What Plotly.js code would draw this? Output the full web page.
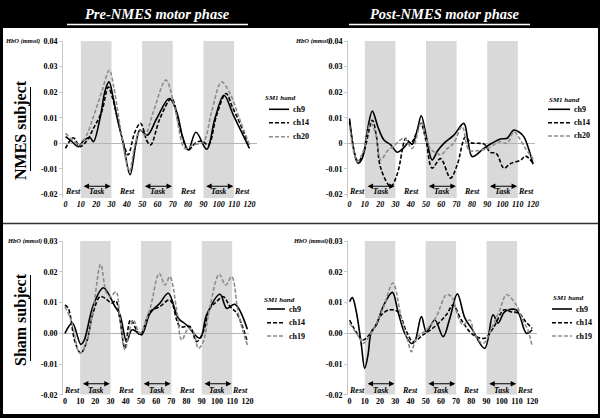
<!DOCTYPE html>
<html><head><meta charset="utf-8">
<script src="https://cdn.plot.ly/plotly-3.0.1.min.js"></script>
<style>html,body{margin:0;padding:0;background:#fff}#chart{width:600px;height:418px}</style>
</head><body><div id="chart"></div>
<script>
// ---------- DATA ----------
const xTicks = [0,10,20,30,40,50,60,70,80,90,100,110,120];
const yTicksTop = [-0.02,-0.01,0,0.01,0.02,0.03,0.04];
const yTickTextTop = ["-0.02","-0.01","0","0.01","0.02","0.03","0.04"];
const yTicksBottom = [-0.02,-0.01,0,0.01,0.02,0.03];
const yTickTextBottom = ["-0.02","-0.01","0.00","0.01","0.02","0.03"];
const taskStart = [10,50,90];
const taskEnd = [30,70,110];
const restLabelX = [4.7,40,80,115.3];
const taskLabelX = [20,60,100];
const columnTitles = ["Pre-NMES motor phase","Post-NMES motor phase"];
const rowTitles = ["NMES subject","Sham subject"];
const legendTitle = "SM1 hand";
const namesTop = ["ch9","ch14","ch20"];
const namesBottom = ["ch9","ch14","ch19"];

// NMES subject, pre-NMES
const nPre_ch9_x = [0,4,8.4,12,16,18.2,22.5,25.8,28.4,31.2,33.8,37.7,42.1,46,48.6,53.4,59.5,67.7,72.5,76.4,80.1,85.1,92.1,97.5,103.4,109.5,114.8,120];
const nPre_ch9_y = [0.0026,0.0008,-0.0013,0.0012,0.0022,0.0006,0.0097,0.0205,0.024,0.0175,0.0097,0,-0.0123,0,0.0052,0.0032,0.0097,0.0175,0.0123,0.0026,-0.0026,0.0043,-0.0023,0.0097,0.0188,0.011,0.0045,-0.002];
const nPre_ch14_x = [0,5.1,9.5,13.8,18.2,23.6,27.9,30.5,33.4,38.8,40.9,45.3,49,53.4,55.6,61.6,69.2,74.6,80.1,84.5,88.9,93.2,98.6,104.7,109,113.8,120];
const nPre_ch14_y = [-0.002,0.0022,-0.0013,0.0009,0.0058,0.0123,0.022,0.018,0.011,-0.002,-0.0045,0.0045,0.0078,0.0006,-0.0006,0.0097,0.0175,0.0058,-0.0026,0,0.0009,-0.0006,0.011,0.0195,0.014,0.0078,-0.0013];
const nPre_ch20_x = [0,4,7.3,9.9,13.8,18.2,23.6,28.6,31.5,34.5,38.8,41.6,45.3,48.6,51.8,57.3,65.5,71.4,78,83.4,89.9,95.3,101.8,107.3,113.8,120];
const nPre_ch20_y = [0.0039,0.0015,0,-0.0006,0.0032,0.0104,0.02,0.0286,0.022,0.011,-0.0045,-0.011,-0.0006,0.0052,0.0032,0.0123,0.0247,0.0136,-0.002,-0.0006,0.0006,0.0123,0.024,0.0195,0.0091,-0.0006];

// NMES subject, post-NMES
const nPost_ch9_x = [0,5.5,8.4,11.5,14.9,18.5,22.5,27,31.2,35,38.9,41,44,46.9,50,54,57.5,61.7,68.2,74.7,77.5,80.2,87.8,93,98.7,103,107.4,110.5,113.9,117,120];
const nPost_ch9_y = [0.0097,-0.0078,-0.0058,0.0045,0.0126,0.0065,0.0013,-0.0006,-0.0035,-0.002,0.0004,-0.0004,0.0045,0.0108,0.0032,-0.0065,-0.003,0,0.0032,0.0078,0.0006,-0.0052,-0.002,0,0.0017,0.002,0.0052,0.0045,0.0026,-0.002,-0.0082];
const nPost_ch14_x = [0,5.5,9,14.9,17.5,20.4,26.9,31.2,35.6,36.7,40,43,46.5,50,54,59.5,66,70.4,75.8,79,84,88,92,96,100.9,105,112,115,120];
const nPost_ch14_y = [0.0084,-0.0071,-0.004,0.009,0.003,-0.0097,-0.0169,-0.012,0.0006,0.002,0,0.003,0.0078,0.001,-0.0097,-0.006,-0.0136,-0.0084,0.0026,0.0003,0,-0.0003,-0.0035,-0.004,-0.0097,-0.008,-0.0065,-0.005,-0.0078];
const nPost_ch20_x = [0,5.1,9,13.8,17,20.4,24.7,29,35.6,41,46.9,50,53.4,56,59.5,64,68,73.6,78,82.4,90,98.7,103,107.4,111,115,120];
const nPost_ch20_y = [0.007,-0.0071,-0.003,0.0078,0.004,-0.0065,-0.003,-0.001,0.002,-0.002,0.0084,0.002,-0.0026,-0.0035,-0.0045,-0.002,0,0.0065,-0.0026,-0.003,-0.002,0.0006,0,0.0045,0.002,-0.002,-0.006];

// Sham subject, pre-NMES
const sPre_ch9_x = [0,4.9,10.4,12.5,18.7,25.3,32.9,36.2,40.6,43.9,47.2,50.5,56,62.5,68,74.6,80,88.8,93.2,102,106.4,111.8,120];
const sPre_ch9_y = [0,0.0033,-0.0036,-0.0025,0.0092,0.0148,0.0087,0.006,-0.0027,0.0011,0.0005,-0.0005,0.0065,0.0098,0.013,0.0049,0.0027,-0.0016,0.006,0.0127,0.0081,0.0094,0.0013];
const sPre_ch14_x = [0,2.2,6.6,10.4,14.3,18.7,23.1,26.4,30.8,33.5,36,39.5,43.2,49.4,56,62.5,69,75.7,82.2,86.6,91,95.4,99.8,104.2,108.6,113,120];
const sPre_ch14_y = [0.0092,0.0081,-0.0027,-0.0065,-0.0027,0.007,0.0119,0.0114,0.0098,0.0105,0.005,-0.0049,0.0043,-0.0005,0.007,0.0087,0.0108,0.0022,0.0022,-0.0027,0.0005,0.0081,0.0103,0.0119,0.0087,0.0065,-0.0027];
const sPre_ch19_x = [0,4.4,9.9,14.3,18.7,23.5,27.4,30.1,33.6,36.2,39.5,42.8,45,49.4,56,62,65.8,69,73.5,76.8,81.2,84.5,87.8,91,95.4,101.5,105.7,109.7,114.2,120];
const sPre_ch19_y = [0.0087,0.0038,-0.0065,-0.0027,0.0081,0.0224,0.013,0.0119,0.0135,0.0049,-0.0054,0.0016,0.0043,0,0.0081,0.0195,0.0157,0.0184,0.0076,-0.0022,0.0016,0.0005,-0.0049,-0.0027,0.0087,0.0192,0.0157,0.0184,0.006,-0.0038];

// Sham subject, post-NMES
const sPost_ch9_x = [0,1.8,4.4,7.7,9.9,12.1,14.3,17.6,22,28.1,31.8,36.2,40.6,42.8,47.2,50.5,56,61.5,65.9,70.8,75.8,80.2,88.8,94.3,97.6,102,109.6,116.3,120];
const sPost_ch9_y = [0.0103,0.0116,0.007,-0.0038,-0.0114,-0.007,0.0005,0.0027,0.0087,0.0133,0.007,0,-0.0033,-0.0027,0.0054,0.0005,0.0043,-0.0011,0.0049,0.0128,0.0049,0.0016,-0.0049,0.006,0.0033,0.007,0.0076,0,0.0011];
const sPost_ch14_x = [0,5.5,8.8,15.4,20.9,26.3,31.8,37.4,41.7,48.3,56,63.6,68,73.5,81.2,88.8,94.3,101.5,105.8,111.3,115.7,120];
const sPost_ch14_y = [0.0043,-0.0005,-0.0022,0.0011,0.006,0.0076,0.007,0.0005,-0.0027,-0.0005,0.0022,0.006,0.0092,0.0043,-0.0005,-0.0016,0.0016,0.0076,0.007,0.0065,0.0038,0.0016];
const sPost_ch19_x = [0,6.6,8.8,15.4,22,28.5,34,38.4,40.6,43.9,50.5,57,63.6,67,71.3,74.6,79,82.3,87.8,93.3,98.3,103.2,108.8,114.3,117.2,120];
const sPost_ch19_y = [0.0033,-0.0016,-0.0033,0.0011,0.0081,0.0163,0.0049,-0.0027,-0.006,-0.0016,0.0011,0.0054,0.0125,0.0119,0.0054,0.0027,0.0043,-0.0005,-0.0033,0.0016,0.007,0.0125,0.0098,0.0038,0.0011,-0.0043];

// ---------- BUILD ----------
const W = 600, H = 418;
const F = "'Liberation Serif','Times New Roman',Times,serif";
const px = v => v / W;
const py = v => 1 - v / H;

const styles = [
  {color:'#000000', width:1.6, dash:'solid'},
  {color:'#000000', width:1.6, dash:'4px,2px'},
  {color:'#8c8c8c', width:1.6, dash:'4px,2px'}
];

const panels = [
  {s:'', xr:[-1.6,125], xd:[63.05,257.1], yr:[-0.0215,0.04], yd:[41,198.3], top:true,
   series:[[nPre_ch9_x,nPre_ch9_y],[nPre_ch14_x,nPre_ch14_y],[nPre_ch20_x,nPre_ch20_y]], names:namesTop,
   hbo:[22,41], leg:{title:[280,98], x0:269, x1:289, ys:[109.3,122.7,136.7]}, arrowY:-0.0168, labY:-0.0190},
  {s:'2', xr:[-1,121.5], xd:[348,535.4], yr:[-0.0215,0.04], yd:[41,198.3], top:true,
   series:[[nPost_ch9_x,nPost_ch9_y],[nPost_ch14_x,nPost_ch14_y],[nPost_ch20_x,nPost_ch20_y]], names:namesTop,
   hbo:[313,41], leg:{title:[564,100], x0:548, x1:570, ys:[109.3,122.7,136]}, arrowY:-0.0168, labY:-0.0190},
  {s:'3', xr:[-1.2,121], xd:[63.1,248.9], yr:[-0.02,0.03], yd:[241,394.8], top:false,
   series:[[sPre_ch9_x,sPre_ch9_y],[sPre_ch14_x,sPre_ch14_y],[sPre_ch19_x,sPre_ch19_y]], names:namesBottom,
   hbo:[24,241], leg:{title:[279,300], x0:267, x1:285, ys:[309,322.7,336]}, arrowY:-0.0164, labY:-0.0185},
  {s:'4', xr:[-1,123], xd:[348.1,536.7], yr:[-0.02,0.03], yd:[241,394.8], top:false,
   series:[[sPost_ch9_x,sPost_ch9_y],[sPost_ch14_x,sPost_ch14_y],[sPost_ch19_x,sPost_ch19_y]], names:namesBottom,
   hbo:[310,241], leg:{title:[568,298], x0:552, x1:572, ys:[309,322.7,336]}, arrowY:-0.0164, labY:-0.0185}
];

const data = [];
const shapes = [];
const annotations = [];
const layout = {
  width: W, height: H, margin:{l:0,r:0,t:0,b:0},
  paper_bgcolor:'#ffffff', plot_bgcolor:'rgba(0,0,0,0)',
  showlegend:false, font:{family:F, color:'#000'}
};

function paperText(x, y, text, font, extra) {
  return Object.assign({xref:'paper', yref:'paper', x:px(x), y:py(y), text:text, showarrow:false,
    xanchor:'center', yanchor:'middle', font:font}, extra || {});
}

panels.forEach(p => {
  const xk = 'xaxis' + p.s, yk = 'yaxis' + p.s;
  const xref = 'x' + p.s, yref = 'y' + p.s;
  layout[xk] = {
    domain:[px(p.xd[0]), px(p.xd[1])], range:p.xr, anchor:yref,
    showgrid:false, zeroline:false, showline:false, ticks:'',
    tickmode:'array', tickvals:xTicks, ticktext:xTicks.map(String),
    tickfont:{family:F, size:8, weight:'bold', style: p.top ? 'italic' : 'normal', color:'#000'},
    fixedrange:true
  };
  layout[yk] = {
    domain:[py(p.yd[1]), py(p.yd[0])], range:p.yr, anchor:xref,
    showgrid:false, zeroline:true, zerolinecolor:'#b4b4b4', zerolinewidth:1,
    showline:true, linecolor:'#c8c8c8', linewidth:1, ticks:'outside', ticklen:3, tickcolor:'#c8c8c8',
    tickmode:'array', tickvals: p.top ? yTicksTop : yTicksBottom, ticktext: p.top ? yTickTextTop : yTickTextBottom,
    tickfont:{family:F, size:8, weight:'bold', color:'#000'}, fixedrange:true
  };
  // shaded task blocks
  taskStart.forEach((t,i) => {
    shapes.push({type:'rect', xref:xref, yref:yref, x0:t, x1:taskEnd[i], y0:p.yr[0], y1:p.yr[1],
      fillcolor:'#d9d9d9', line:{width:0}, layer:'below'});
  });
  // series
  p.series.forEach((sr,i) => {
    data.push({type:'scatter', mode:'lines', x:sr[0], y:sr[1], name:p.names[i], xaxis:xref, yaxis:yref,
      line:{color:styles[i].color, width:styles[i].width, dash:styles[i].dash, shape:'spline', smoothing:1},
      hoverinfo:'skip'});
  });
  // Rest / Task labels
  const lf = {family:F, size:8, weight:'bold', style:'italic', color:'#000'};
  restLabelX.forEach(x => annotations.push({xref:xref, yref:yref, x:x, y:p.labY, text:'Rest', showarrow:false,
    xanchor:'center', yanchor:'middle', font:lf}));
  taskLabelX.forEach(x => annotations.push({xref:xref, yref:yref, x:x, y:p.labY, text:'Task', showarrow:false,
    xanchor:'center', yanchor:'middle', font:lf}));
  taskStart.forEach((t,i) => annotations.push({xref:xref, yref:yref, axref:xref, ayref:yref,
    x:taskEnd[i]-0.5, y:p.arrowY, ax:t+0.8, ay:p.arrowY, text:'', showarrow:true,
    arrowhead:2, arrowside:'end+start', arrowsize:1, arrowwidth:1.1, arrowcolor:'#000'}));
  // HbO label
  annotations.push(paperText(p.hbo[0], p.hbo[1], 'HbO (mmol)', {family:F, size:6.5, weight:'bold', style:'italic', color:'#000'}));
  // manual legend
  annotations.push(paperText(p.leg.title[0], p.leg.title[1], legendTitle, {family:F, size:7, weight:'bold', style:'italic', color:'#000'}));
  p.leg.ys.forEach((yy,i) => {
    shapes.push({type:'line', xref:'paper', yref:'paper', x0:px(p.leg.x0), x1:px(p.leg.x1), y0:py(yy), y1:py(yy),
      line:{color:styles[i].color, width:styles[i].width, dash:styles[i].dash}});
    annotations.push(paperText(p.leg.x1+2, yy, p.names[i], {family:F, size:8, weight:'bold', color:'#000'}, {xanchor:'left'}));
  });
});

// frame: black band at top, borders, separator
shapes.push({type:'rect', xref:'paper', yref:'paper', x0:0, x1:1, y0:py(28), y1:1, fillcolor:'#000', line:{width:0}});
shapes.push({type:'rect', xref:'paper', yref:'paper', x0:0, x1:px(3), y0:0, y1:1, fillcolor:'#000', line:{width:0}});
shapes.push({type:'rect', xref:'paper', yref:'paper', x0:px(598), x1:1, y0:0, y1:1, fillcolor:'#000', line:{width:0}});
shapes.push({type:'rect', xref:'paper', yref:'paper', x0:0, x1:1, y0:0, y1:py(414), fillcolor:'#000', line:{width:0}});
shapes.push({type:'line', xref:'paper', yref:'paper', x0:px(3), x1:px(598), y0:py(223.5), y1:py(223.5), line:{color:'#333', width:1.5}});
// column titles + white underlines
const colCenters = [158, 445];
const underlines = [[67,248],[349,530]];
columnTitles.forEach((t,i) => {
  annotations.push(paperText(colCenters[i], 13.5, t, {family:F, size:14.5, weight:'bold', style:'italic', color:'#fff'}));
  shapes.push({type:'line', xref:'paper', yref:'paper', x0:px(underlines[i][0]), x1:px(underlines[i][1]), y0:py(24.5), y1:py(24.5),
    line:{color:'#fff', width:1.5}});
});
// row titles + vertical underline
const rowCenters = [130, 320];
const rowLines = [[87,171],[275,361]];
rowTitles.forEach((t,i) => {
  annotations.push(paperText(21, rowCenters[i], t, {family:F, size:16, weight:'bold', color:'#000'}, {textangle:-90}));
  shapes.push({type:'line', xref:'paper', yref:'paper', x0:px(30.5), x1:px(30.5), y0:py(rowLines[i][0]), y1:py(rowLines[i][1]),
    line:{color:'#000', width:1}});
});

layout.shapes = shapes;
layout.annotations = annotations;
Plotly.newPlot('chart', data, layout, {displayModeBar:false, staticPlot:true});
</script></body></html>
